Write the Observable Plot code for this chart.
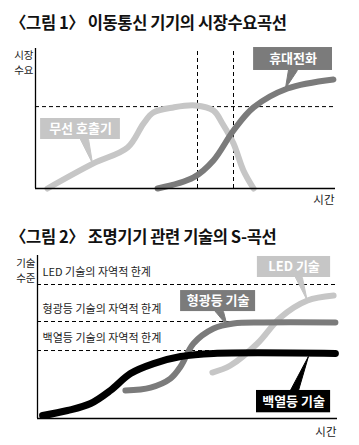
<!DOCTYPE html>
<html><head><meta charset="utf-8">
<script src="https://cdn.jsdelivr.net/npm/d3@7"></script>
<script src="https://cdn.jsdelivr.net/npm/@observablehq/plot@0.6"></script>
<style>
body{margin:0;background:#fff;font-family:"Noto Sans CJK KR",sans-serif;width:359px;height:445px;overflow:hidden}
.t{font-weight:bold;font-size:16.5px;letter-spacing:-0.4px;padding-left:10px;color:#111;white-space:nowrap;overflow:visible}
svg{display:block;overflow:visible}
</style></head><body>
<div class="t" style="height:36px;line-height:44px">〈그림 1〉 이동통신 기기의 시장수요곡선</div>
<div id="c1"></div>
<div class="t" style="height:39px;line-height:50px">〈그림 2〉 조명기기 관련 기술의 S-곡선</div>
<div id="c2"></div>
<script>
// ---- Figure 1 data (time 0-100, demand 0-100) ----
const pagerX = [4, 19.3, 30.7, 36, 39.3, 46, 53.3, 59.3, 62.3, 66, 69.3, 72.7];
const pagerY = [0, 17.9, 29.3, 46.4, 54.3, 57.9, 59.3, 55.7, 46.4, 32.1, 12.9, 0];
const phoneX = [40.7, 52.7, 59.3, 66, 72.7, 84, 99.3];
const phoneY = [0, 7.9, 20, 41.4, 57.9, 71.4, 77.9];
const demandLevel = [58.5];
const turnTimes = [54, 66];

// ---- Figure 2 data (time 0-100, tech level 0-100) ----
const bulbX = [1.7, 10, 17.7, 24.3, 31, 38.7, 47.7, 58.7, 99.3];
const bulbY = [1.8, 4.9, 9.2, 17.2, 27.6, 33.7, 38, 39.9, 39.9];
const fluoX = [29.3, 37.7, 44.3, 47.7, 52, 58.7, 65.3, 75.3, 99.3];
const fluoY = [17.2, 19, 24.5, 31.9, 46, 55.2, 58.3, 58.9, 58.9];
const ledX = [58.3, 64.3, 73.3, 81, 90, 98.7];
const ledY = [28.2, 32.5, 46, 62, 72.4, 75.5];
const limitNames = ["LED 기술의 자역적 한계", "형광등 기술의 자역적 한계", "백열등 기술의 자역적 한계"];
const limitLevels = [82.2, 59.5, 41.7];

const font = '"Noto Sans CJK KR", sans-serif';
const LIGHT = "#c6c6c6", MID = "#7b7b7b", DARK = "#000";
const zip = (xs, ys) => xs.map((x, i) => ({x, y: ys[i]}));

function callout(b, color, txtColor) {
  const tri = [[b.bx1, b.by], [b.bx2, b.by], [b.tx, b.ty], [b.bx1, b.by]];
  return [
    Plot.line(tri, {x: d => d[0], y: d => d[1], fill: color, stroke: color, strokeWidth: 1}),
    Plot.rect([b], {x1: "x1", x2: "x2", y1: "y1", y2: "y2", fill: color}),
    Plot.text([b], {x: d => (d.x1 + d.x2) / 2, y: d => (d.y1 + d.y2) / 2, text: "label",
      fill: txtColor, fontSize: 13, fontWeight: "bold", letterSpacing: "-0.3px"})
  ];
}

const axisMarks = () => [
  Plot.ruleX([0], {y1: 0, y2: 100, stroke: "#000", strokeWidth: 1.3}),
  Plot.ruleY([0], {x1: 0, x2: 100, stroke: "#000", strokeWidth: 1.3})
];

const p1 = Plot.plot({
  width: 359, height: 175,
  marginLeft: 35, marginRight: 24, marginTop: 12, marginBottom: 23,
  x: {domain: [0, 100], axis: null},
  y: {domain: [0, 100], axis: null},
  style: {fontFamily: font, background: "white", overflow: "visible"},
  marks: [
    Plot.ruleY(demandLevel, {stroke: "#000", strokeWidth: 1, strokeDasharray: "4,3"}),
    Plot.ruleX(turnTimes, {y1: 0, y2: 100, stroke: "#000", strokeWidth: 1, strokeDasharray: "4,3"}),
    Plot.line(zip(pagerX, pagerY), {x: "x", y: "y", curve: "catmull-rom", stroke: LIGHT, strokeWidth: 6, strokeLinecap: "round"}),
    Plot.line(zip(phoneX, phoneY), {x: "x", y: "y", curve: "catmull-rom", stroke: MID, strokeWidth: 6, strokeLinecap: "round"}),
    ...axisMarks(),
    ...callout({x1: 1.7, x2: 28.3, y1: 35, y2: 50, bx1: 15, bx2: 17.7, by: 35, tx: 19, ty: 17.9, label: "무선 호출기"}, LIGHT, "#fff"),
    ...callout({x1: 72.7, x2: 99, y1: 84.3, y2: 100.7, bx1: 84.3, bx2: 87.3, by: 84.3, tx: 83.3, ty: 71.4, label: "휴대전화"}, MID, "#fff"),
    Plot.text([{t: "시장\n수요"}], {x: 0, y: 90.5, text: "t", dx: -2, textAnchor: "end", lineHeight: 1.45, fontSize: 10.5, fill: "#222"}),
    Plot.text([{t: "시간"}], {x: 100, y: 0, text: "t", dy: 12, dx: -1, textAnchor: "end", fontSize: 11.5, fill: "#222"})
  ]
});
document.getElementById("c1").append(p1);

const p2 = Plot.plot({
  width: 359, height: 195,
  marginLeft: 37, marginRight: 22, marginTop: 5, marginBottom: 27,
  x: {domain: [0, 100], axis: null},
  y: {domain: [0, 100], axis: null},
  style: {fontFamily: font, background: "white", overflow: "visible"},
  marks: [
    Plot.ruleY(limitLevels, {stroke: "#000", strokeWidth: 1, strokeDasharray: "4,3"}),
    Plot.text(limitNames, {x: 1.7, y: (d, i) => limitLevels[i], text: d => d, dy: -12, textAnchor: "start", fontSize: 11, fill: "#222", letterSpacing: "-0.3px"}),
    Plot.line(zip(ledX, ledY), {x: "x", y: "y", curve: "catmull-rom", stroke: LIGHT, strokeWidth: 6, strokeLinecap: "round"}),
    Plot.line(zip(fluoX, fluoY), {x: "x", y: "y", curve: "catmull-rom", stroke: MID, strokeWidth: 6, strokeLinecap: "round"}),
    Plot.line(zip(bulbX, bulbY), {x: "x", y: "y", curve: "catmull-rom", stroke: DARK, strokeWidth: 7, strokeLinecap: "round"}),
    ...axisMarks(),
    ...callout({x1: 73.3, x2: 97.7, y1: 86.5, y2: 99.4, bx1: 86, bx2: 88.3, by: 86.5, tx: 89.9, ty: 72.4, label: "LED 기술"}, LIGHT, "#fff"),
    ...callout({x1: 47.7, x2: 72.7, y1: 65.6, y2: 78.5, bx1: 59.3, bx2: 62, by: 65.6, tx: 63.2, ty: 57, label: "형광등 기술"}, MID, "#fff"),
    ...callout({x1: 73, x2: 97.7, y1: 3.5, y2: 17.2, bx1: 84.3, bx2: 87, by: 17.2, tx: 90.3, ty: 38, label: "백열등 기술"}, DARK, "#fff"),
    Plot.text([{t: "기술\n수준"}], {x: 0, y: 91.4, text: "t", dx: -2, textAnchor: "end", lineHeight: 1.45, fontSize: 10.5, fill: "#222"}),
    Plot.text([{t: "시간"}], {x: 100, y: 0, text: "t", dy: 14, dx: -1, textAnchor: "end", fontSize: 11.5, fill: "#222"})
  ]
});
document.getElementById("c2").append(p2);
</script>
</body></html>
